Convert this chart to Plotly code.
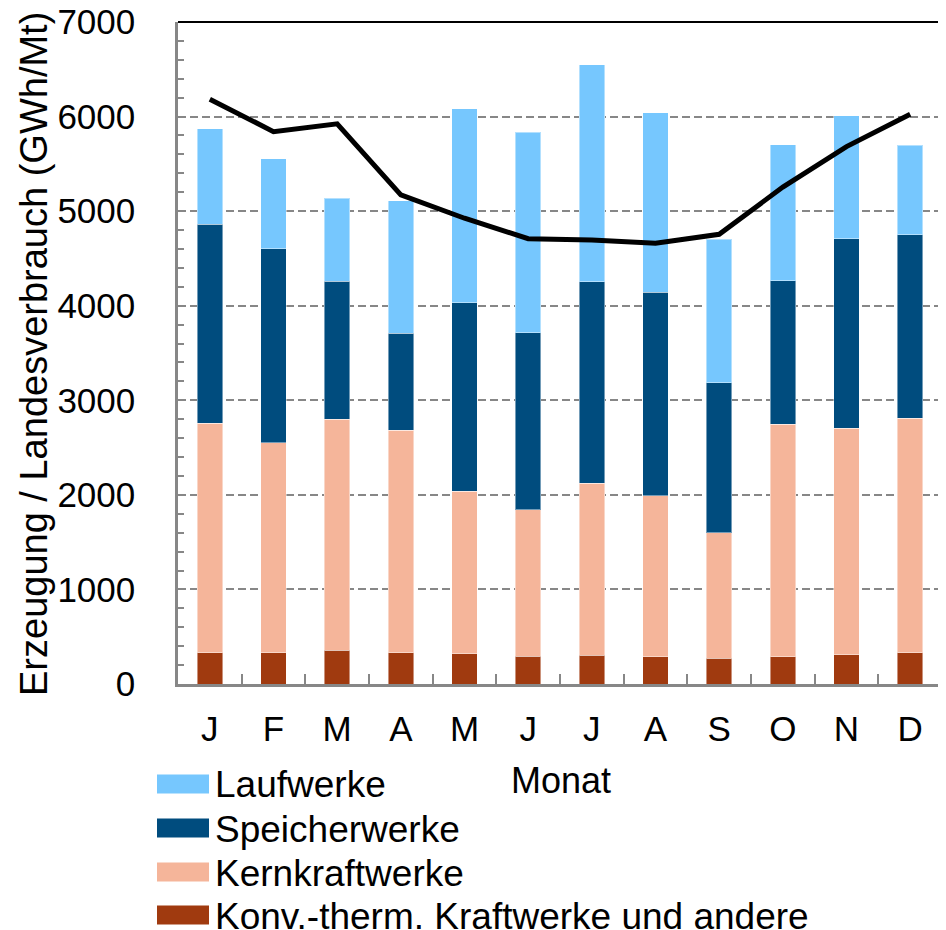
import plotly.graph_objects as go

# ── Data ─────────────────────────────────────────────────────────────────────
MONTHS = ["J", "F", "M", "A", "M", "J", "J", "A", "S", "O", "N", "D"]
KONV = [332, 332, 357, 332, 322, 293, 304, 286, 272, 290, 307, 328]
KERN = [2424, 2218, 2444, 2353, 1717, 1552, 1820, 1707, 1326, 2458, 2399, 2480]
SPEICHER = [2105, 2053, 1460, 1023, 1990, 1869, 2130, 2152, 1587, 1517, 2003, 1943]
LAUF = [1012, 953, 875, 1400, 2053, 2121, 2293, 1894, 1518, 1439, 1299, 946]
VERBRAUCH = [6184, 5841, 5923, 5171, 4925, 4709, 4695, 4660, 4755, 5255, 5683, 6025]

Y_TICKS = [0, 1000, 2000, 3000, 4000, 5000, 6000, 7000]

# ── Style ────────────────────────────────────────────────────────────────────
FONT = "Liberation Sans, Arial, sans-serif"
AXIS_GREY = "#878787"
COL_LAUF = "#76C7FE"
COL_SPEICHER = "#004C7E"
COL_KERN = "#F5B59A"
COL_KONV = "#A03A0F"

# page body adds an 8px margin, so the figure is a bit smaller than the window
OFF = 8
W, H = 946 - OFF, 930 - OFF
L, R, T, B = 178 - OFF, 4, 22 - OFF, 246
PLOT_W = W - L - R
PLOT_H = H - T - B


def py(pix):
    """window pixel row -> paper y"""
    return (H - B - (pix - OFF)) / PLOT_H


def px(pix):
    """window pixel column -> paper x"""
    return (pix - OFF - L) / PLOT_W


fig = go.Figure()

# x as indices so repeated month letters stay separate categories
x_idx = list(range(len(MONTHS)))
series = [
    ("Konv.-therm. Kraftwerke und andere", KONV, COL_KONV),
    ("Kernkraftwerke", KERN, COL_KERN),
    ("Speicherwerke", SPEICHER, COL_SPEICHER),
    ("Laufwerke", LAUF, COL_LAUF),
]
for name, vals, col in series:
    fig.add_trace(go.Bar(
        x=x_idx, y=vals, name=name,
        marker={"color": col, "line": {"color": "rgba(255,255,255,0.45)", "width": 1}},
        showlegend=False,
    ))

fig.add_trace(go.Scatter(
    x=x_idx, y=VERBRAUCH, mode="lines",
    line={"color": "black", "width": 5},
    name="Landesverbrauch", showlegend=False,
))

# ── Manual legend (large swatches like the original) ─────────────────────────
legend_rows = [
    ("Laufwerke", COL_LAUF, 784),
    ("Speicherwerke", COL_SPEICHER, 828),
    ("Kernkraftwerke", COL_KERN, 872),
    ("Konv.-therm. Kraftwerke und andere", COL_KONV, 915),
]
for label, col, yc in legend_rows:
    fig.add_shape(type="rect", xref="paper", yref="paper",
                  x0=px(157), x1=px(209), y0=py(yc + 9.5), y1=py(yc - 9.5),
                  fillcolor=col, line={"width": 0})
    fig.add_annotation(text=label, xref="paper", yref="paper",
                       x=px(213), y=py(yc + 1), xanchor="left", yanchor="middle",
                       showarrow=False, font={"size": 37, "color": "black", "family": FONT})

# axis titles
fig.add_annotation(text="Monat", xref="paper", yref="paper",
                   x=px(561), y=py(780), xanchor="center", yanchor="middle",
                   showarrow=False, font={"size": 36, "color": "black", "family": FONT})
fig.add_annotation(text="Erzeugung / Landesverbrauch (GWh/Mt)", xref="paper", yref="paper",
                   x=px(34), y=py(354), xanchor="center", yanchor="middle", textangle=-90,
                   showarrow=False, font={"size": 38, "color": "black", "family": FONT})

# black frame on top and right
fig.add_shape(type="line", xref="paper", yref="paper", x0=0, x1=1, y0=1, y1=1,
              line={"color": "black", "width": 2})
fig.add_shape(type="line", xref="paper", yref="paper", x0=1, x1=1, y0=0, y1=1,
              line={"color": "black", "width": 2})

fig.update_layout(
    width=W, height=H,
    barmode="stack", bargap=0.6,
    paper_bgcolor="white", plot_bgcolor="white",
    font={"family": FONT, "color": "black", "size": 35},
    margin={"l": L, "r": R, "t": T, "b": B, "pad": 0, "autoexpand": False},
    xaxis={
        "type": "category",
        "automargin": False,
        "tickvals": x_idx, "ticktext": MONTHS,
        "ticks": "inside", "tickson": "boundaries", "ticklen": 10,
        "tickwidth": 2, "tickcolor": AXIS_GREY,
        "showline": True, "linecolor": AXIS_GREY, "linewidth": 2.5,
        "showgrid": False,
        "tickfont": {"size": 35},
        "ticklabelstandoff": 12,
    },
    yaxis={
        "range": [0, 7000],
        "automargin": False,
        "tickvals": Y_TICKS,
        "ticks": "inside", "ticklen": 6, "tickwidth": 1.5, "tickcolor": AXIS_GREY,
        "minor": {"dtick": 200, "ticks": "inside", "ticklen": 6, "tickwidth": 1.5,
                  "tickcolor": AXIS_GREY, "showgrid": False},
        "showline": True, "linecolor": AXIS_GREY, "linewidth": 2.5,
        "showgrid": True, "gridcolor": AXIS_GREY, "gridwidth": 1.5, "griddash": "8px,4px",
        "zeroline": False,
        "tickfont": {"size": 35},
        "ticklabelstandoff": 33,
        "ticklabeloverflow": "allow",
    },
)

fig.write_html("out.html")
